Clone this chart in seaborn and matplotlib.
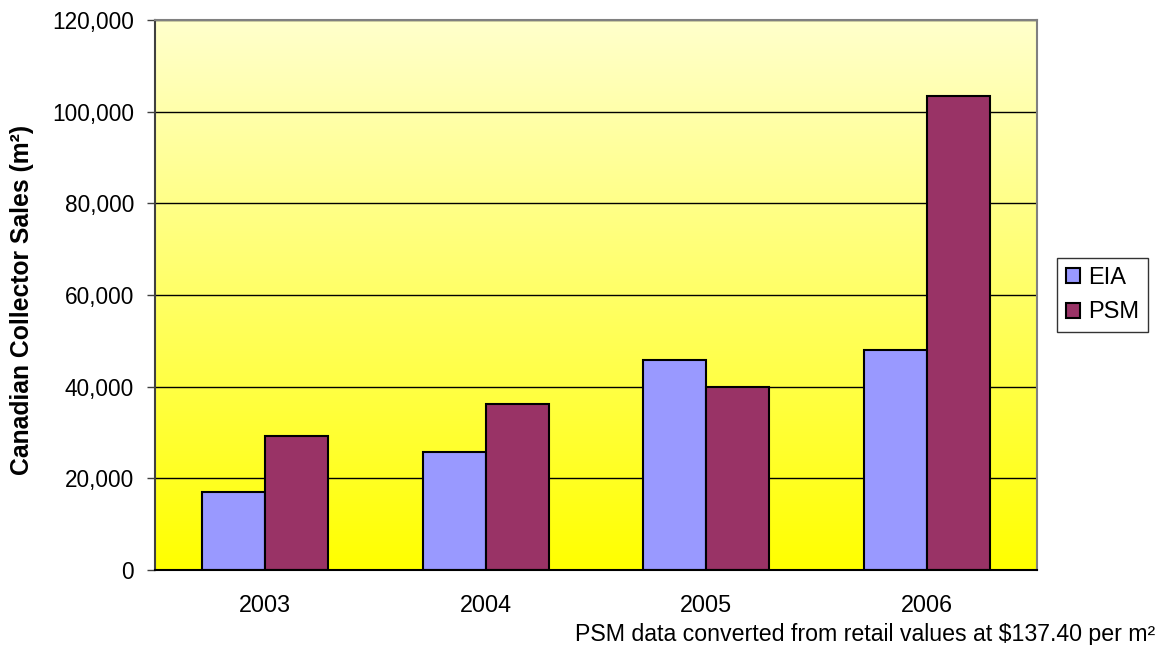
import numpy as np
import pandas as pd
import matplotlib
matplotlib.use("Agg")
import matplotlib.pyplot as plt
import seaborn as sns
from matplotlib.colors import LinearSegmentedColormap

years = ["2003", "2004", "2005", "2006"]
eia = [17100, 25700, 45800, 47900]
psm = [29200, 36200, 39900, 103500]
series = ["EIA", "PSM"]
colors = ["#9999FF", "#993366"]
yticks = [0, 20000, 40000, 60000, 80000, 100000, 120000]

df = pd.DataFrame({
    "Year": years * 2,
    "Source": [series[0]] * len(years) + [series[1]] * len(years),
    "Sales": eia + psm,
})

sns.set_theme(style="white")
plt.rcParams["font.family"] = ["Liberation Sans", "DejaVu Sans"]
plt.rcParams["text.color"] = "black"
plt.rcParams["axes.labelcolor"] = "black"
plt.rcParams["xtick.color"] = "black"
plt.rcParams["ytick.color"] = "black"

fig = plt.figure(figsize=(11.63, 6.45), dpi=100)
ax = fig.add_axes([155 / 1163, 1 - 570 / 645, (1037 - 155) / 1163, (570 - 20) / 645])

sns.barplot(data=df, x="Year", y="Sales", hue="Source", palette=colors,
            width=0.572, gap=0, edgecolor="black", linewidth=1.5,
            saturation=1, ax=ax, zorder=3)

ax.set_xlim(-0.5, len(years) - 0.5)
ax.set_ylim(0, 120000)

# pale-to-bright yellow vertical gradient behind the bars
grad = np.linspace(0, 1, 256).reshape(-1, 1)
cmap = LinearSegmentedColormap.from_list("bg", ["#FFFF00", "#FFFFCC"])
ax.imshow(grad, cmap=cmap, aspect="auto", origin="lower",
          extent=[-0.5, len(years) - 0.5, 0, 120000], zorder=0)

ax.set_yticks(yticks)
ax.set_yticklabels([f"{v:,}" for v in yticks], fontsize=16.3, color="black")
ax.yaxis.grid(True, color="black", linewidth=1.0)
for gl in ax.get_ygridlines():
    gl.set_zorder(1)

ax.set_xticks(range(len(years)))
ax.set_xticklabels(years, fontsize=16.8, color="black")
ax.set_xticks(np.arange(-0.5, len(years)), minor=True)
ax.tick_params(axis="x", which="major", length=0, pad=17)
ax.tick_params(axis="x", which="minor", length=6, width=1, color="#404040", direction="out")
ax.tick_params(axis="y", which="major", length=6, width=1, color="#404040",
               direction="out", left=True, pad=9)

ax.set_xlabel("")
ax.set_ylabel("Canadian Collector Sales (m²)", fontsize=17.8, fontweight="bold", color="black")
ax.yaxis.set_label_coords(-0.137, 0.491)

for side in ["top", "right"]:
    ax.spines[side].set_color("#808080")
    ax.spines[side].set_linewidth(1.5)
ax.spines["left"].set_color("#404040")
ax.spines["left"].set_linewidth(1.5)
ax.spines["bottom"].set_color("black")
ax.spines["bottom"].set_linewidth(1.5)
for s in ax.spines.values():
    s.set_zorder(5)

handles, labels = ax.get_legend_handles_labels()
leg = ax.legend(handles, labels, loc="center left", bbox_to_anchor=(1057 / 1163, 1 - 295 / 645),
                bbox_transform=fig.transFigure, fontsize=17, frameon=True, fancybox=False,
                edgecolor="black", handlelength=0.6, handleheight=0.6, handletextpad=0.34,
                labelspacing=0.55, borderpad=0.38, borderaxespad=0)
leg.get_frame().set_linewidth(1.0)
for t in leg.get_texts():
    t.set_color("black")

fig.text(1155 / 1163, 1 - 641 / 645, "PSM data converted from retail values at $137.40 per m²",
         ha="right", va="baseline", fontsize=16.7, color="black")

fig.savefig("out.png", dpi=100, facecolor="white")
